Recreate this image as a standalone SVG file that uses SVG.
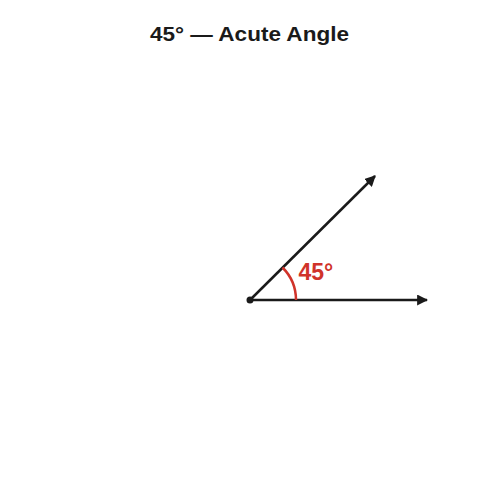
<svg xmlns="http://www.w3.org/2000/svg" width="500" height="500" viewBox="0 0 500 500">
<style>
.title{font-family:"Liberation Sans",Arial,sans-serif;font-weight:bold;font-size:21px;fill:#1a1a1a}
.lbl{font-family:"Liberation Sans",Arial,sans-serif;font-weight:bold;font-size:23px;fill:#d0332a}
.ray{stroke:#1a1a1a;stroke-width:2.5;fill:none}
</style>
<defs>
<marker id="ah" viewBox="0 0 10 10" refX="9" refY="5" markerWidth="11" markerHeight="11" markerUnits="userSpaceOnUse" orient="auto">
<path d="M0,0 L10,5 L0,10 Z" fill="#1a1a1a"/>
</marker>
</defs>
<rect width="500" height="500" fill="#ffffff"/>
<text class="title" x="150" y="41" textLength="199" lengthAdjust="spacingAndGlyphs">45° — Acute Angle</text>
<g id="connectors">
<line class="ray" x1="250" y1="300" x2="427" y2="300" marker-end="url(#ah)"/>
<line class="ray" x1="250" y1="300" x2="375" y2="176" marker-end="url(#ah)"/>
</g>
<g id="vertex"><circle cx="250" cy="300" r="3.5" fill="#1a1a1a"/></g>
<g id="angle">
<path d="M296,300 A46,46 0 0 0 282.5,267.5" stroke="#d0332a" stroke-width="2.5" fill="none"/>
<text class="lbl" x="298.5" y="280">45°</text>
</g>
</svg>
